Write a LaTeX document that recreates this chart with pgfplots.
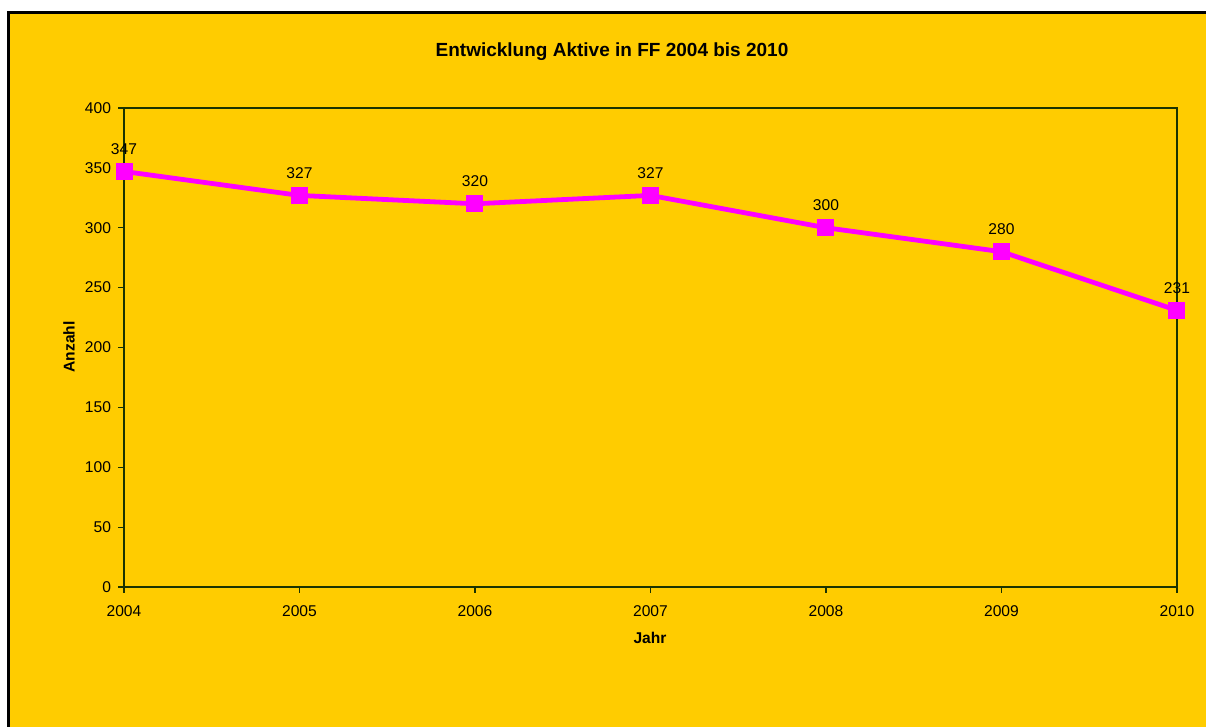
\documentclass[border=0pt]{standalone}
\usepackage{pgfplots}
\pgfplotsset{compat=1.18}
\usepackage{fontspec}
\setmainfont{Liberation Sans}
\definecolor{bg}{HTML}{FFCC00}
\definecolor{ax}{HTML}{1A3300}
\definecolor{mag}{HTML}{FF00FF}
\begin{document}
\begin{tikzpicture}
\begin{scope}[x=0.5pt,y=0.5pt]
\useasboundingbox (0,0) rectangle (1206,727);
\fill[white] (0,0) rectangle (1206,727);
\fill[bg] (8,0) rectangle (1206,714);
\draw[black, line width=1.5pt] (8,0) -- (8,714) -- (1206,714);
\node[font=\fontsize{9.5}{11}\selectfont\bfseries] at (612,675) {Entwicklung Aktive in FF 2004 bis 2010};
\node[font=\fontsize{7.8}{9}\selectfont\bfseries, rotate=90] at (69,380) {Anzahl};
\node[font=\fontsize{7.8}{9}\selectfont\bfseries] at (650,89) {Jahr};
\end{scope}
\begin{axis}[
  at={(62pt,70pt)}, anchor=south west,
  scale only axis, width=526.5pt, height=239.5pt,
  xmin=2004, xmax=2010, ymin=0, ymax=400,
  xtick={2004,2005,2006,2007,2008,2009,2010},
  ytick={0,50,100,150,200,250,300,350,400},
  axis line style={ax, line width=0.8pt},
  tick style={ax, line width=0.6pt},
  tick align=outside, major tick length=3pt,
  xtick pos=bottom, ytick pos=left,
  /pgf/number format/assume math mode=true,
  /pgf/number format/1000 sep={},
  ticklabel style={font=\fontsize{7.8}{9}\selectfont, text=black},
  xticklabel style={yshift=-3pt},
  yticklabel style={xshift=0pt},
  grid=none,
  clip=false,
  nodes near coords,
  every node near coord/.append style={font=\fontsize{7.8}{9}\selectfont, text=black, anchor=south, inner sep=0pt, yshift=8.5pt},
]
\addplot[mag, line width=2.4pt, mark=square*, mark size=4pt, mark options={fill=mag, draw=mag, line width=0pt}] coordinates {
(2004,347) (2005,327) (2006,320) (2007,327) (2008,300) (2009,280) (2010,231)
};
\end{axis}
\end{tikzpicture}
\end{document}
